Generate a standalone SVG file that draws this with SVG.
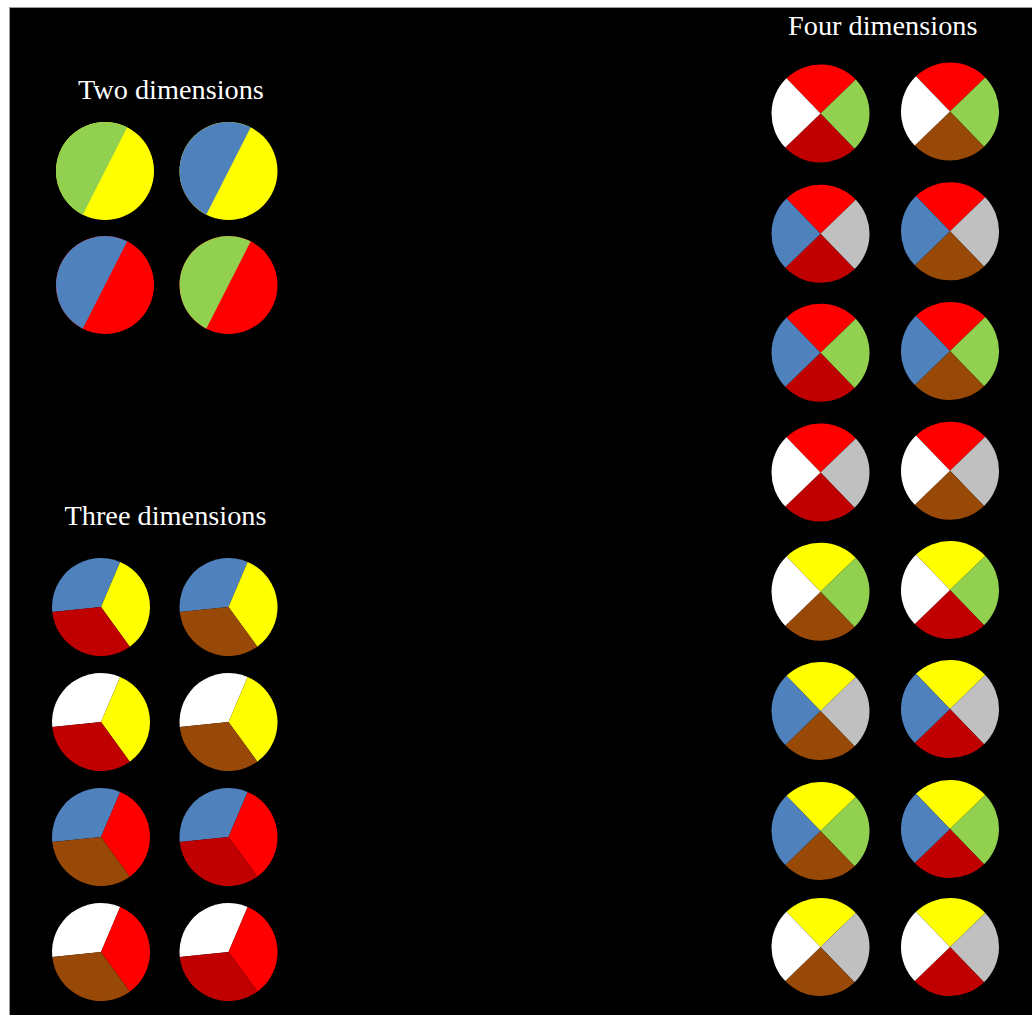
<svg xmlns="http://www.w3.org/2000/svg" xmlns:xlink="http://www.w3.org/1999/xlink" width="1032" height="1015" viewBox="0 0 1032 1015">
<style>
.t{font-family:"Liberation Serif","Times New Roman",serif;font-size:28.3px;fill:#ffffff}
.g{fill:#92D050}.y{fill:#FFFF00}.b{fill:#4F81BD}.r{fill:#FF0000}.d{fill:#C00000}.n{fill:#984807}.w{fill:#FFFFFF}.s{fill:#C0C0C0}
</style>
<defs>
<path id="h2" d="M22.25,-43.66 A49,49 0 0,0 -22.25,43.66 Z"/>
<path id="a3" d="M0,0 L-48.73,5.12 A49,49 0 0,1 19.15,-45.11 Z"/>
<path id="b3" d="M0,0 L19.15,-45.11 A49,49 0 0,1 28.80,39.64 Z"/>
<path id="c3" d="M0,0 L28.80,39.64 A49,49 0 0,1 -48.73,5.12 Z"/>
<path id="q1" d="M0,0 L-34.04,-35.25 A49,49 0 0,1 35.25,-34.04 Z"/>
<path id="q2" d="M0,0 L35.25,-34.04 A49,49 0 0,1 34.04,35.25 Z"/>
<path id="q3" d="M0,0 L34.04,35.25 A49,49 0 0,1 -35.25,34.04 Z"/>
<path id="q4" d="M0,0 L-35.25,34.04 A49,49 0 0,1 -34.04,-35.25 Z"/>
</defs>
<rect x="0" y="0" width="1032" height="1015" fill="#ffffff"/>
<rect x="9.5" y="7.5" width="1023" height="1008" fill="#000000" stroke="#9a9a9a" stroke-width="1"/>

<text class="t" x="78" y="98.5">Two dimensions</text>
<text class="t" x="64.5" y="524.5">Three dimensions</text>
<text class="t" x="788" y="34.5">Four dimensions</text>

<!-- Two dimensions -->
<g id="two-1" transform="translate(105,171)"><circle r="49" class="y"/><use xlink:href="#h2" class="g"/></g>
<g id="two-2" transform="translate(228.5,171)"><circle r="49" class="y"/><use xlink:href="#h2" class="b"/></g>
<g id="two-3" transform="translate(105,285)"><circle r="49" class="r"/><use xlink:href="#h2" class="b"/></g>
<g id="two-4" transform="translate(228.5,285)"><circle r="49" class="r"/><use xlink:href="#h2" class="g"/></g>

<!-- Three dimensions -->
<g id="three-1" transform="translate(101,607)"><use xlink:href="#a3" class="b"/><use xlink:href="#b3" class="y"/><use xlink:href="#c3" class="d"/></g>
<g id="three-2" transform="translate(228.5,607)"><use xlink:href="#a3" class="b"/><use xlink:href="#b3" class="y"/><use xlink:href="#c3" class="n"/></g>
<g id="three-3" transform="translate(101,722)"><use xlink:href="#a3" class="w"/><use xlink:href="#b3" class="y"/><use xlink:href="#c3" class="d"/></g>
<g id="three-4" transform="translate(228.5,722)"><use xlink:href="#a3" class="w"/><use xlink:href="#b3" class="y"/><use xlink:href="#c3" class="n"/></g>
<g id="three-5" transform="translate(101,837)"><use xlink:href="#a3" class="b"/><use xlink:href="#b3" class="r"/><use xlink:href="#c3" class="n"/></g>
<g id="three-6" transform="translate(228.5,837)"><use xlink:href="#a3" class="b"/><use xlink:href="#b3" class="r"/><use xlink:href="#c3" class="d"/></g>
<g id="three-7" transform="translate(101,952)"><use xlink:href="#a3" class="w"/><use xlink:href="#b3" class="r"/><use xlink:href="#c3" class="n"/></g>
<g id="three-8" transform="translate(228.5,952)"><use xlink:href="#a3" class="w"/><use xlink:href="#b3" class="r"/><use xlink:href="#c3" class="d"/></g>

<!-- Four dimensions -->
<g id="four-1" transform="translate(820.5,113.5)"><use xlink:href="#q1" class="r"/><use xlink:href="#q2" class="g"/><use xlink:href="#q3" class="d"/><use xlink:href="#q4" class="w"/></g>
<g id="four-2" transform="translate(950,111.5)"><use xlink:href="#q1" class="r"/><use xlink:href="#q2" class="g"/><use xlink:href="#q3" class="n"/><use xlink:href="#q4" class="w"/></g>
<g id="four-3" transform="translate(820.5,233.8)"><use xlink:href="#q1" class="r"/><use xlink:href="#q2" class="s"/><use xlink:href="#q3" class="d"/><use xlink:href="#q4" class="b"/></g>
<g id="four-4" transform="translate(950,231.3)"><use xlink:href="#q1" class="r"/><use xlink:href="#q2" class="s"/><use xlink:href="#q3" class="n"/><use xlink:href="#q4" class="b"/></g>
<g id="four-5" transform="translate(820.5,352.8)"><use xlink:href="#q1" class="r"/><use xlink:href="#q2" class="g"/><use xlink:href="#q3" class="d"/><use xlink:href="#q4" class="b"/></g>
<g id="four-6" transform="translate(950,351)"><use xlink:href="#q1" class="r"/><use xlink:href="#q2" class="g"/><use xlink:href="#q3" class="n"/><use xlink:href="#q4" class="b"/></g>
<g id="four-7" transform="translate(820.5,472.5)"><use xlink:href="#q1" class="r"/><use xlink:href="#q2" class="s"/><use xlink:href="#q3" class="d"/><use xlink:href="#q4" class="w"/></g>
<g id="four-8" transform="translate(950,470.8)"><use xlink:href="#q1" class="r"/><use xlink:href="#q2" class="s"/><use xlink:href="#q3" class="n"/><use xlink:href="#q4" class="w"/></g>
<g id="four-9" transform="translate(820.5,591.7)"><use xlink:href="#q1" class="y"/><use xlink:href="#q2" class="g"/><use xlink:href="#q3" class="n"/><use xlink:href="#q4" class="w"/></g>
<g id="four-10" transform="translate(950,590)"><use xlink:href="#q1" class="y"/><use xlink:href="#q2" class="g"/><use xlink:href="#q3" class="d"/><use xlink:href="#q4" class="w"/></g>
<g id="four-11" transform="translate(820.5,711)"><use xlink:href="#q1" class="y"/><use xlink:href="#q2" class="s"/><use xlink:href="#q3" class="n"/><use xlink:href="#q4" class="b"/></g>
<g id="four-12" transform="translate(950,709)"><use xlink:href="#q1" class="y"/><use xlink:href="#q2" class="s"/><use xlink:href="#q3" class="d"/><use xlink:href="#q4" class="b"/></g>
<g id="four-13" transform="translate(820.5,831)"><use xlink:href="#q1" class="y"/><use xlink:href="#q2" class="g"/><use xlink:href="#q3" class="n"/><use xlink:href="#q4" class="b"/></g>
<g id="four-14" transform="translate(950,829)"><use xlink:href="#q1" class="y"/><use xlink:href="#q2" class="g"/><use xlink:href="#q3" class="d"/><use xlink:href="#q4" class="b"/></g>
<g id="four-15" transform="translate(820.5,947)"><use xlink:href="#q1" class="y"/><use xlink:href="#q2" class="s"/><use xlink:href="#q3" class="n"/><use xlink:href="#q4" class="w"/></g>
<g id="four-16" transform="translate(950,947)"><use xlink:href="#q1" class="y"/><use xlink:href="#q2" class="s"/><use xlink:href="#q3" class="d"/><use xlink:href="#q4" class="w"/></g>
</svg>
